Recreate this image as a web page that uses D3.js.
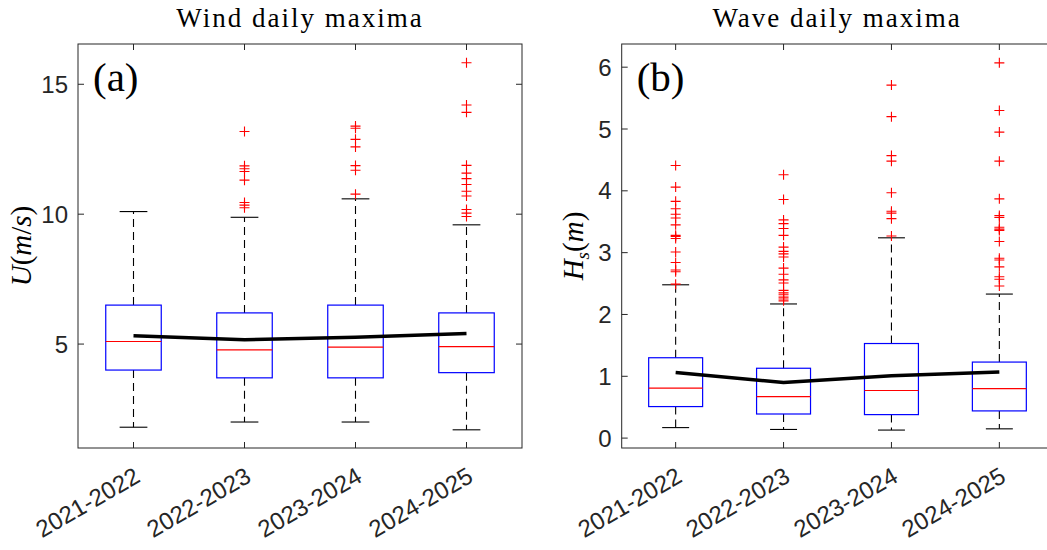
<!DOCTYPE html>
<html>
<head>
<meta charset="utf-8">
<script src="https://cdn.jsdelivr.net/npm/d3@7"></script>
<style>
  body { margin: 0; background: #fff; overflow: hidden; }
  svg { display: block; }
</style>
</head>
<body>
<svg id="chart"></svg>
<script>
// [A] Datos -------------------------------------------------------------
const categories = ["2021-2022", "2022-2023", "2023-2024", "2024-2025"];

// Viento (m/s)
const windQ1 = [4.0, 3.7, 3.7, 3.9];
const windMedian = [5.1, 4.78, 4.88, 4.9];
const windQ3 = [6.5, 6.2, 6.5, 6.2];
const windLow = [1.8, 2.0, 2.0, 1.7];
const windHigh = [10.1, 9.88, 10.59, 9.59];
const windMean = [5.32, 5.17, 5.26, 5.41];
const windOutliers = [
    [],
    [13.18, 11.86, 11.75, 11.64, 11.31, 10.45, 10.35, 10.25],
    [13.39, 13.31, 12.88, 12.59, 11.87, 11.69, 10.77],
    [15.83, 14.2, 13.92, 11.88, 11.58, 11.37, 11.14, 10.88, 10.7, 10.18, 10.04, 9.91]
];
const windTicks = [5, 10, 15];

// Oleaje Hs (m)
const waveQ1 = [0.51, 0.39, 0.38, 0.44];
const waveMedian = [0.81, 0.67, 0.77, 0.80];
const waveQ3 = [1.30, 1.13, 1.53, 1.23];
const waveLow = [0.17, 0.14, 0.13, 0.15];
const waveHigh = [2.48, 2.17, 3.24, 2.33];
const waveMean = [1.06, 0.90, 1.01, 1.07];
const waveOutliers = [
    [4.41, 4.06, 3.83, 3.71, 3.62, 3.56, 3.45, 3.28, 3.26, 3.23, 3.01, 2.84, 2.72, 2.69, 2.49],
    [4.26, 3.86, 3.53, 3.47, 3.39, 3.28, 3.09, 3.02, 2.98, 2.93, 2.75, 2.65, 2.56, 2.51, 2.39, 2.35, 2.32, 2.28, 2.25, 2.22],
    [5.71, 5.20, 4.57, 4.48, 3.97, 3.67, 3.64, 3.55, 3.27],
    [6.07, 5.30, 4.95, 4.48, 3.87, 3.60, 3.57, 3.41, 3.38, 3.36, 3.18, 2.91, 2.88, 2.77, 2.61, 2.57, 2.46]
];
const waveTicks = [0, 1, 2, 3, 4, 5, 6];

// [B] Configuración -----------------------------------------------------
const width = 1047;
const height = 550;
const axisColor = "#262626";
const serif = "'Liberation Serif', 'DejaVu Serif', serif";
const sans = "'Liberation Sans', Arial, sans-serif";

const svg = d3.select("#chart").attr("width", width).attr("height", height);

// [C] Dibuja un panel ---------------------------------------------------
function drawPanel(opt) {
    const x = d3.scaleLinear().domain([0.5, 4.5]).range([opt.left, opt.right]);
    const y = d3.scaleLinear().domain(opt.yDomain).range([opt.bottom, opt.top]);
    const g = svg.append("g");
    const boxW = 0.25;   // media anchura de la caja (unidades de x)
    const capW = 0.125;  // media anchura del bigote
    const idx = d3.range(categories.length);

    // [C.1] Bigotes discontinuos
    g.selectAll(".whiskUp").data(idx).join("line")
        .attr("x1", i => x(i + 1)).attr("x2", i => x(i + 1))
        .attr("y1", i => y(opt.q3[i])).attr("y2", i => y(opt.high[i]))
        .attr("stroke", "#000").attr("stroke-width", 1.1).attr("stroke-dasharray", "8,5");
    g.selectAll(".whiskDown").data(idx).join("line")
        .attr("x1", i => x(i + 1)).attr("x2", i => x(i + 1))
        .attr("y1", i => y(opt.q1[i])).attr("y2", i => y(opt.low[i]))
        .attr("stroke", "#000").attr("stroke-width", 1.1).attr("stroke-dasharray", "8,5");

    // [C.2] Extremos de bigotes
    [opt.high, opt.low].forEach(arr => {
        g.append("g").selectAll("line").data(idx).join("line")
            .attr("x1", i => x(i + 1 - capW)).attr("x2", i => x(i + 1 + capW))
            .attr("y1", i => y(arr[i])).attr("y2", i => y(arr[i]))
            .attr("stroke", "#000").attr("stroke-width", 1.1);
    });

    // [C.3] Cajas
    g.append("g").selectAll("rect").data(idx).join("rect")
        .attr("x", i => x(i + 1 - boxW))
        .attr("width", i => x(i + 1 + boxW) - x(i + 1 - boxW))
        .attr("y", i => y(opt.q3[i]))
        .attr("height", i => y(opt.q1[i]) - y(opt.q3[i]))
        .attr("fill", "none").attr("stroke", "#0000ff").attr("stroke-width", 1.2);

    // [C.4] Medianas
    g.append("g").selectAll("line").data(idx).join("line")
        .attr("x1", i => x(i + 1 - boxW)).attr("x2", i => x(i + 1 + boxW))
        .attr("y1", i => y(opt.median[i])).attr("y2", i => y(opt.median[i]))
        .attr("stroke", "#ff0000").attr("stroke-width", 1.2);

    // [C.5] Valores atípicos (+)
    const pts = [];
    opt.outliers.forEach((arr, i) => arr.forEach(v => pts.push({ i, v })));
    g.append("g").selectAll("path").data(pts).join("path")
        .attr("d", d => {
            const cx = x(d.i + 1), cy = y(d.v), s = 5;
            return `M${cx - s},${cy}H${cx + s}M${cx},${cy - s}V${cy + s}`;
        })
        .attr("stroke", "#ff0000").attr("stroke-width", 1.1).attr("fill", "none");

    // [C.6] Línea de medias
    const line = d3.line().x((d, i) => x(i + 1)).y(d => y(d));
    g.append("path").datum(opt.mean)
        .attr("d", line)
        .attr("fill", "none").attr("stroke", "#000").attr("stroke-width", 3.5)
        .attr("stroke-linejoin", "round");

    // [C.7] Ejes (caja completa con marcas hacia dentro)
    const tick = 6;
    const ax = svg.append("g");
    ax.append("rect")
        .attr("x", opt.left).attr("y", opt.top)
        .attr("width", opt.right - opt.left).attr("height", opt.bottom - opt.top)
        .attr("fill", "none").attr("stroke", axisColor).attr("stroke-width", 1);
    idx.forEach(i => {
        ax.append("line").attr("x1", x(i + 1)).attr("x2", x(i + 1))
            .attr("y1", opt.bottom).attr("y2", opt.bottom - tick).attr("stroke", axisColor);
        ax.append("line").attr("x1", x(i + 1)).attr("x2", x(i + 1))
            .attr("y1", opt.top).attr("y2", opt.top + tick).attr("stroke", axisColor);
    });
    opt.ticks.forEach(t => {
        ax.append("line").attr("x1", opt.left).attr("x2", opt.left + tick)
            .attr("y1", y(t)).attr("y2", y(t)).attr("stroke", axisColor);
        ax.append("line").attr("x1", opt.right).attr("x2", opt.right - tick)
            .attr("y1", y(t)).attr("y2", y(t)).attr("stroke", axisColor);
        ax.append("text").attr("x", opt.left - 10).attr("y", y(t))
            .attr("dy", "0.36em").attr("text-anchor", "end")
            .attr("font-family", sans).attr("font-size", 24).attr("fill", axisColor)
            .text(t);
    });

    // [C.8] Etiquetas del eje x rotadas
    idx.forEach(i => {
        const cx = x(i + 1) - 46, cy = opt.bottom + 54;
        ax.append("text")
            .attr("transform", `translate(${cx},${cy}) rotate(-30)`)
            .attr("text-anchor", "middle").attr("dy", "0.36em")
            .attr("font-family", sans).attr("font-size", 24).attr("fill", axisColor)
            .text(categories[i]);
    });

    // [C.9] Título y letra del panel
    svg.append("text").attr("x", opt.titleX).attr("y", 27)
        .attr("text-anchor", "middle").attr("font-family", serif).attr("font-size", 27)
        .attr("letter-spacing", 2).attr("fill", "#000").text(opt.title);
    svg.append("text").attr("x", opt.left + 15).attr("y", 91)
        .attr("font-family", serif).attr("font-size", 41).attr("fill", "#000")
        .text(opt.letter);

    // [C.10] Etiqueta del eje y
    const yl = svg.append("text")
        .attr("transform", `translate(${opt.yLabelX},${(opt.top + opt.bottom) / 2}) rotate(-90)`)
        .attr("text-anchor", "middle").attr("font-family", serif).attr("font-size", 29)
        .attr("fill", "#000");
    opt.yLabel(yl);
}

// [D] Panel (a): viento -------------------------------------------------
drawPanel({
    left: 78, right: 522, top: 44, bottom: 448,
    yDomain: [1.0, 16.55],
    q1: windQ1, median: windMedian, q3: windQ3, low: windLow, high: windHigh,
    mean: windMean, outliers: windOutliers, ticks: windTicks,
    title: "Wind daily maxima", titleX: 300, letter: "(a)", yLabelX: 31,
    yLabel: t => {
        t.append("tspan").attr("font-style", "italic").text("U");
        t.append("tspan").text("(");
        t.append("tspan").attr("font-style", "italic").text("m");
        t.append("tspan").text("/");
        t.append("tspan").attr("font-style", "italic").text("s");
        t.append("tspan").text(")");
    }
});

// [E] Panel (b): oleaje -------------------------------------------------
drawPanel({
    left: 621.7, right: 1053.3, top: 44, bottom: 448,
    yDomain: [-0.16, 6.375],
    q1: waveQ1, median: waveMedian, q3: waveQ3, low: waveLow, high: waveHigh,
    mean: waveMean, outliers: waveOutliers, ticks: waveTicks,
    title: "Wave daily maxima", titleX: 837, letter: "(b)", yLabelX: 583,
    yLabel: t => {
        t.append("tspan").attr("font-style", "italic").text("H");
        t.append("tspan").attr("font-style", "italic").attr("font-size", 19)
            .attr("dy", 6).text("s");
        t.append("tspan").attr("dy", -6).text("(");
        t.append("tspan").attr("font-style", "italic").text("m");
        t.append("tspan").text(")");
    }
});
</script>
</body>
</html>
